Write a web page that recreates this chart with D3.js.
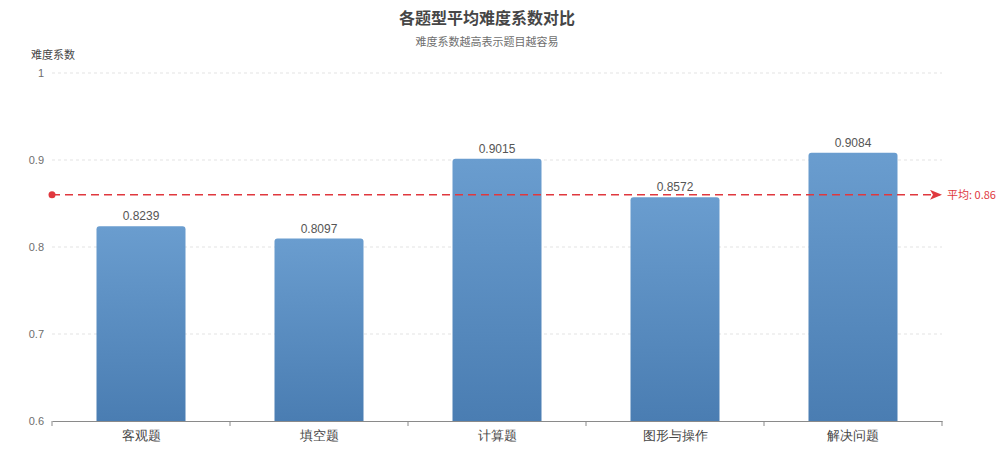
<!DOCTYPE html>
<html>
<head>
<meta charset="utf-8">
<script src="https://cdn.jsdelivr.net/npm/d3@7"></script>
<style>
  body { margin: 0; background: #fff; }
  svg { font-family: "Noto Sans CJK SC", "Noto Sans", sans-serif; }
</style>
</head>
<body>
<div id="chart"></div>
<script>
const categories = ["客观题", "填空题", "计算题", "图形与操作", "解决问题"];
const values = [0.8239, 0.8097, 0.9015, 0.8572, 0.9084];
const meanValue = 0.86;
const yTicks = [0.6, 0.7, 0.8, 0.9, 1];

const width = 1004, height = 449;
const margin = { top: 73, right: 62, bottom: 28, left: 52 };
const plotW = width - margin.left - margin.right;
const plotH = height - margin.top - margin.bottom;

const svg = d3.select("#chart").append("svg")
  .attr("width", width)
  .attr("height", height);

// gradient for bars
const defs = svg.append("defs");
const grad = defs.append("linearGradient")
  .attr("id", "barGrad")
  .attr("x1", 0).attr("y1", 0).attr("x2", 0).attr("y2", 1);
grad.append("stop").attr("offset", "0%").attr("stop-color", "#6a9dcf");
grad.append("stop").attr("offset", "100%").attr("stop-color", "#4a7db2");

defs.append("marker")
  .attr("id", "arrow")
  .attr("viewBox", "0 0 12 10")
  .attr("refX", 10).attr("refY", 5)
  .attr("markerWidth", 13).attr("markerHeight", 10)
  .attr("markerUnits", "userSpaceOnUse")
  .attr("orient", "auto")
  .append("path")
  .attr("d", "M0,0 L12,5 L0,10 L3,5 Z")
  .attr("fill", "#e0383e");

// title
svg.append("text")
  .attr("x", 487).attr("y", 24)
  .attr("text-anchor", "middle")
  .style("font-size", "16px")
  .style("font-weight", "bold")
  .style("fill", "#464646")
  .text("各题型平均难度系数对比");
svg.append("text")
  .attr("x", 487).attr("y", 46)
  .attr("text-anchor", "middle")
  .style("font-size", "11px")
  .style("fill", "#6e6e6e")
  .text("难度系数越高表示题目越容易");

const g = svg.append("g")
  .attr("transform", `translate(${margin.left},${margin.top})`);

const x = d3.scaleBand().domain(categories).range([0, plotW]).paddingInner(0).paddingOuter(0);
const y = d3.scaleLinear().domain([0.6, 1]).range([plotH, 0]);

// grid lines
g.append("g")
  .selectAll("line")
  .data(yTicks.filter(d => d > 0.6))
  .join("line")
  .attr("x1", 0).attr("x2", plotW)
  .attr("y1", d => y(d)).attr("y2", d => y(d))
  .attr("stroke", "#e3e3e3")
  .attr("stroke-dasharray", "3,3");

// y axis labels
const yAxis = g.append("g")
  .call(d3.axisLeft(y).tickValues(yTicks).tickSize(0).tickPadding(8).tickFormat(d3.format("~g")));
yAxis.select(".domain").remove();
yAxis.selectAll("text")
  .style("font-size", "11px")
  .style("fill", "#6e6e6e")
  .style("font-family", "'Liberation Sans', Arial, sans-serif");

// y axis name
svg.append("text")
  .attr("x", 31).attr("y", 59)
  .style("font-size", "11px")
  .style("fill", "#464646")
  .text("难度系数");

// bars
const barW = x.bandwidth() * 0.5;
const r = 3;
g.append("g")
  .selectAll("path")
  .data(values)
  .join("path")
  .attr("fill", "url(#barGrad)")
  .attr("d", (d, i) => {
    const x0 = x(categories[i]) + (x.bandwidth() - barW) / 2;
    const x1 = x0 + barW;
    const y0 = y(d), y1 = y(0.6);
    return `M${x0},${y1} L${x0},${y0 + r} Q${x0},${y0} ${x0 + r},${y0} L${x1 - r},${y0} Q${x1},${y0} ${x1},${y0 + r} L${x1},${y1} Z`;
  });

// value labels
g.append("g")
  .selectAll("text")
  .data(values)
  .join("text")
  .attr("x", (d, i) => x(categories[i]) + x.bandwidth() / 2)
  .attr("y", d => y(d) - 6)
  .attr("text-anchor", "middle")
  .style("font-size", "12px")
  .style("fill", "#555")
  .style("font-family", "'Liberation Sans', Arial, sans-serif")
  .text(d => d.toFixed(4));

// x axis
const xAxis = g.append("g")
  .attr("transform", `translate(0,${plotH})`)
  .call(d3.axisBottom(x).tickSize(0).tickPadding(10));
xAxis.select(".domain").attr("stroke", "#8a8a8a").attr("stroke-width", 1.2);
xAxis.selectAll("text")
  .style("font-size", "12.5px")
  .style("fill", "#464646");
g.append("g")
  .attr("transform", `translate(0,${plotH})`)
  .selectAll("line")
  .data(d3.range(categories.length + 1))
  .join("line")
  .attr("x1", i => i * x.step()).attr("x2", i => i * x.step())
  .attr("y1", 0).attr("y2", 5)
  .attr("stroke", "#8a8a8a");

// mean line
const my = y(meanValue);
g.append("line")
  .attr("x1", 0).attr("x2", plotW - 2)
  .attr("y1", my).attr("y2", my)
  .attr("stroke", "#e0383e")
  .attr("stroke-width", 1.6)
  .attr("stroke-dasharray", "8,5")
  .attr("marker-end", "url(#arrow)");
g.append("circle")
  .attr("cx", 0).attr("cy", my).attr("r", 3.5)
  .attr("fill", "#e0383e");
g.append("text")
  .attr("x", plotW + 5).attr("y", my + 4)
  .style("font-size", "11px")
  .style("fill", "#e0383e")
  .text("平均: " + meanValue);
</script>
</body>
</html>
